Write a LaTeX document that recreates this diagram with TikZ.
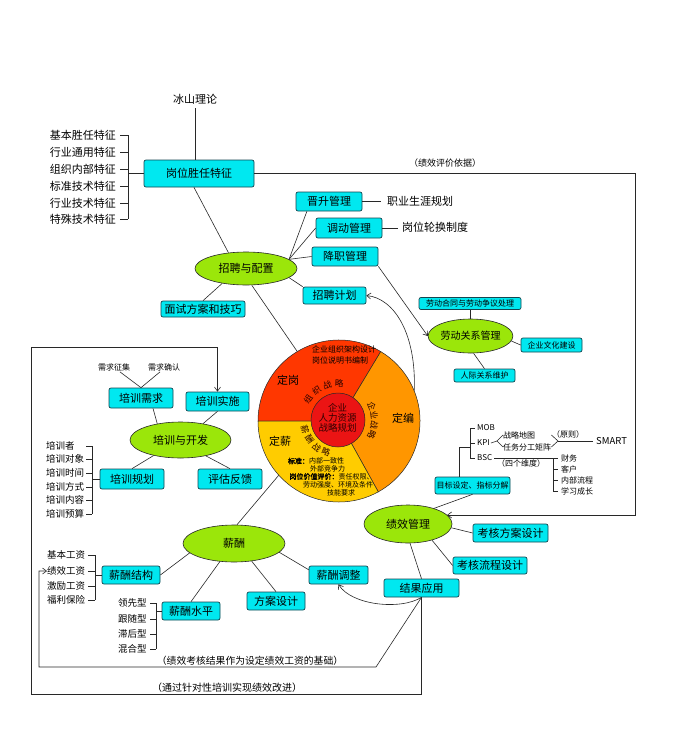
\documentclass[tikz,border=0pt]{standalone}
\usepackage{fontspec}
\setmainfont{Noto Sans CJK SC}[AutoFakeBold=2]
\usetikzlibrary{shapes.geometric,arrows.meta}
\definecolor{boxfill}{RGB}{0,232,240}
\definecolor{boxline}{RGB}{20,70,80}
\definecolor{ovalfill}{RGB}{155,230,10}
\definecolor{pred}{RGB}{255,55,0}
\definecolor{porange}{RGB}{255,150,0}
\definecolor{pyellow}{RGB}{255,204,0}
\definecolor{pinner}{RGB}{235,20,20}
\definecolor{lncol}{RGB}{40,40,40}
\newcommand\myfs[1]{\fontsize{#1pt}{#1pt}\selectfont}
\begin{document}
\begin{tikzpicture}[x=1pt,y=-1pt,
 box/.style={draw=boxline, fill=boxfill, rounded corners=2pt, line width=0.7pt, inner sep=0pt, font=\myfs{11}},
 sbox/.style={box, font=\myfs{8}},
 oval/.style={ellipse, draw=lncol, fill=ovalfill, line width=0.6pt, inner sep=0pt, font=\myfs{11}},
 txt/.style={inner sep=0pt, font=\myfs{11}},
 stxt/.style={inner sep=0pt, font=\myfs{8}},
 mtxt/.style={inner sep=0pt, font=\myfs{9.5}},
 ptxt/.style={inner sep=0pt, font=\myfs{7}},
 ringtxt/.style={inner sep=0pt, font=\myfs{8.5}, text=black!85!red},
 ln/.style={draw=lncol, line width=0.6pt},
 arr/.style={ln, -{Straight Barb[length=4pt,width=6pt]}},
]
\fill[white] (0,0) rectangle (680,750);
\useasboundingbox (0,0) rectangle (680,750);

% ---------- pie ----------
\node[circle, minimum size=162pt, inner sep=0pt] (pie) at (339,421) {};
\coordinate (pc) at (339,421);
\filldraw[fill=pred, draw=lncol, line width=0.5pt] (pc) -- ++(-59:81) arc[start angle=-59, end angle=-180, radius=81] -- cycle;
\filldraw[fill=porange, draw=lncol, line width=0.5pt] (pc) -- ++(61:81) arc[start angle=61, end angle=-59, radius=81] -- cycle;
\filldraw[fill=pyellow, draw=lncol, line width=0.5pt] (pc) -- ++(-180:81) arc[start angle=-180, end angle=-299, radius=81] -- cycle;
\filldraw[fill=pinner, draw=lncol, line width=0.5pt] (338,420) circle[radius=27];
\node[inner sep=0pt, align=center, font=\fontsize{9.5pt}{10pt}\selectfont, text=black!80!red] (inner) at (337.5,417.5) {企业\\人力资源\\战略规划};
\node[stxt] (pt1) at (344,349) {企业组织架构设计};
\node[stxt] (pt2) at (340,360) {岗位说明书编制};
\node[txt] (dg) at (288,380) {定岗};
\node[txt] (db) at (403,418) {定编};
\node[txt] (dx) at (280,441) {定薪};
\node[ptxt] (py1) at (316,461) {\bfseries 标准：\mdseries 内部一致性};
\node[ptxt] (py2) at (327.5,468.5) {外部竞争力};
\node[ptxt] (py3) at (331.5,476.5) {\bfseries 岗位价值评价：\mdseries 责任权限、};
\node[ptxt] (py4) at (338,484.5) {劳动强度、环境及条件};
\node[ptxt] (py5) at (341,492.5) {技能要求};
\foreach \a/\c [count=\i] in {145/组,126/织,107/战,88/略}
  \path (338,420) ++(-\a:36.5) node[ringtxt, rotate=\a-90] (ra\i) {\c};
\foreach \a/\c [count=\i] in {22/企,7/业,-8/战,-23/略}
  \path (338,420) ++(-\a:36.5) node[ringtxt, rotate=\a-90] (rb\i) {\c};
\foreach \a/\c [count=\i] in {197/薪,214.5/酬,232/战,249.5/略}
  \path (338,420) ++(-\a:34.5) node[ringtxt, rotate=\a+90] (rc\i) {\c};

% ---------- top ----------
\node[txt] (bslt) at (195,99) {冰山理论};
\node[box, minimum width=110pt, minimum height=27pt] (gwsr) at (199,173.5) {岗位胜任特征};
\node[txt, font=\myfs{9}] (jxpj) at (445,163) {（绩效评价依据）};
\draw[ln] (bslt.south) ++(0,4) -- (gwsr.north -| bslt.south);
\coordinate (gtk) at (120,0);
\coordinate (gbr) at (128,0);
\foreach \t/\yy [count=\i] in {基本胜任特征/135,行业通用特征/152,组织内部特征/169,标准技术特征/186,行业技术特征/203,特殊技术特征/219}{
  \node[txt, anchor=east] (ga\i) at (116,\yy) {\t};
  \draw[ln] (ga\i.east -| gtk) -- (ga\i.east -| gbr);
}
\draw[ln] (ga1.east -| gbr) -- (ga6.east -| gbr);
\draw[ln] (gwsr.west -| gbr) -- (gwsr.west);

\node[box, minimum width=66pt, minimum height=19pt] (jsgl) at (329,201.5) {晋升管理};
\node[txt, anchor=west] (zysy) at (387,201) {职业生涯规划};
\node[box, minimum width=66pt, minimum height=20pt] (ddgl) at (349,228) {调动管理};
\node[txt, anchor=west] (gwlh) at (402,227) {岗位轮换制度};
\node[box, minimum width=66pt, minimum height=19pt] (jzgl) at (345,256.5) {降职管理};
\node[oval, minimum width=102pt, minimum height=33pt] (zppz) at (246,268.5) {招聘与配置};
\node[box, minimum width=63pt, minimum height=17pt] (zpjh) at (334.5,295.5) {招聘计划};
\node[box, minimum width=84pt, minimum height=16pt] (msfa) at (203,309) {面试方案和技巧};
\draw[ln, shorten >=6pt] (jsgl.east) -- (zysy.west |- jsgl.east);
\draw[ln, shorten >=4pt] (ddgl.east) -- (gwlh.west |- ddgl.east);
\draw[ln] (gwsr.-110) -- (zppz.138);
\draw[ln] (zppz.12) -- (jsgl.204);
\draw[ln] (zppz.12) -- (ddgl.west);
\draw[ln] (zppz.12) -- (jzgl.west);
\draw[ln] (zppz.-12) -- (zpjh.north west);
\draw[ln] (zppz.212) -- (msfa.north);
\draw[ln] (zppz.-71) -- (pie.121);
\draw[arr] (pie.22) .. controls +(2,-57) and +(28,3) .. (zpjh.east);

% ---------- labour relations ----------
\node[sbox, minimum width=102pt, minimum height=12pt] (ldht) at (470,303.5) {劳动合同与劳动争议处理};
\node[oval, font=\myfs{10}, minimum width=73pt, minimum height=34pt] (ldgx) at (470.5,336) {劳动关系管理};
\node[sbox, minimum width=61pt, minimum height=14pt] (qywh) at (551.5,345) {企业文化建设};
\node[sbox, minimum width=61pt, minimum height=13pt] (rjgx) at (484.5,375.5) {人际关系维护};
\draw[ln] (ldht.south -| ldgx.north) -- (ldgx.north);
\draw[ln] (ldgx.-7) -- (qywh.west);
\draw[ln] (ldgx.-80) -- (rjgx.north);
\draw[arr] (jzgl.south east) -- (ldgx.west);

% ---------- training ----------
\node[stxt] (xqzj) at (114,367) {需求征集};
\node[stxt] (xqqr) at (164,367) {需求确认};
\node[box, minimum width=64pt, minimum height=20pt] (pxxq) at (141,398) {培训需求};
\node[box, minimum width=63pt, minimum height=19pt] (pxss) at (217.5,401.5) {培训实施};
\node[oval, minimum width=101pt, minimum height=36pt] (pxkf) at (180.5,440) {培训与开发};
\node[box, minimum width=64pt, minimum height=20pt] (pxgh) at (132,479) {培训规划};
\node[box, minimum width=64pt, minimum height=20pt] (pgfk) at (230,479) {评估反馈};
\draw[ln] (xqzj.south) ++(6,1) -- (pxxq.north);
\draw[ln] (xqqr.south) ++(-4,1) -- (pxxq.north);
\draw[ln] (pxxq.south) ++(12,0) -- (pxkf.145);
\draw[ln] (pxss.south) -- (pxkf.36);
\draw[ln] (pxkf.-150) -- (pxgh.north);
\draw[ln] (pxkf.-32) -- (pgfk.north);
\coordinate (ptk) at (86,0);
\coordinate (pbr) at (92,0);
\foreach \t/\yy [count=\i] in {培训者/446,培训对象/459,培训时间/473,培训方式/487,培训内容/500,培训预算/514}{
  \node[mtxt, anchor=west] (pl\i) at (46,\yy) {\t};
  \draw[ln] (pl\i.west -| ptk) -- (pl\i.west -| pbr);
}
\draw[ln] (pl1.west -| pbr) -- (pl6.west -| pbr);
\draw[ln] (pxgh.west -| pbr) -- (pxgh.west);

% ---------- salary ----------
\node[oval, minimum width=102pt, minimum height=37pt] (xc) at (234,543.5) {薪酬};
\node[box, minimum width=58pt, minimum height=18pt] (xcjg) at (131,575) {薪酬结构};
\node[box, minimum width=58pt, minimum height=18pt] (xcsp) at (191,611) {薪酬水平};
\node[box, minimum width=58pt, minimum height=18pt] (fasj) at (276,601) {方案设计};
\node[box, minimum width=59pt, minimum height=18pt] (xctz) at (338.5,575) {薪酬调整};
\draw[ln] (pie.222) -- (xc.81);
\draw[ln] (xc.192) -- (xcjg.east);
\draw[ln] (xc.232) -- (xcsp.north);
\draw[ln] (xc.-45) -- (fasj.north);
\draw[ln] (xc.-11) -- (xctz.170);
\coordinate (stk) at (88,0);
\coordinate (sbr) at (95,0);
\foreach \t/\yy [count=\i] in {基本工资/555,绩效工资/571,激励工资/586,福利保险/600}{
  \node[mtxt, anchor=west] (xs\i) at (47,\yy) {\t};
  \draw[ln] (xs\i.west -| stk) -- (xs\i.west -| sbr);
}
\draw[ln] (xs1.west -| sbr) -- (xs4.west -| sbr);
\draw[ln] (xcjg.west -| sbr) -- (xcjg.west);
\coordinate (ltk) at (150,0);
\coordinate (lbr) at (156,0);
\foreach \t/\yy [count=\i] in {领先型/603,跟随型/619,滞后型/634,混合型/649}{
  \node[mtxt, anchor=west] (xl\i) at (118,\yy) {\t};
  \draw[ln] (xl\i.west -| ltk) -- (xl\i.west -| lbr);
}
\draw[ln] (xl1.west -| lbr) -- (xl4.west -| lbr);
\draw[ln] (xcsp.west -| lbr) -- (xcsp.west);

% ---------- performance ----------
\node[oval, minimum width=88pt, minimum height=38pt] (jxgl) at (408,524) {绩效管理};
\node[box, minimum width=75pt, minimum height=18pt] (khfa) at (510.5,533) {考核方案设计};
\node[box, minimum width=74pt, minimum height=17pt] (khlc) at (490,565.5) {考核流程设计};
\node[box, minimum width=75pt, minimum height=18pt] (jgyy) at (421.5,588) {结果应用};
\node[sbox, minimum width=75pt, minimum height=17pt] (mbsd) at (472.5,485.5) {目标设定、指标分解};
\draw[ln] (jxgl.-5) -- (khfa.west);
\draw[ln] (jxgl.-34) -- (khlc.west);
\draw[ln] (jxgl.-84) -- (jgyy.north);
\draw[ln] (mbsd.south) -- (jxgl.31);
\coordinate (r1) at (635,0);
\draw[arr] (gwsr.east) -- (gwsr.east -| r1) -- (jxgl.13 -| r1) -- (jxgl.13);
\draw[arr] (jgyy.south) .. controls +(-21,13) and +(13,21) .. (xctz.south);

% indicator tree
\node[stxt, anchor=west] (mob) at (477,428) {MOB};
\node[stxt, anchor=west] (kpi) at (477,443) {KPI};
\node[stxt, anchor=west] (bsc) at (477,458) {BSC};
\coordinate (kbx) at (470,0);
\coordinate (kst) at (459,447);
\draw[ln] (mob.west -| kbx) -- (bsc.west -| kbx);
\draw[ln, shorten >=2pt] (mob.west -| kbx) -- (mob.west);
\draw[ln, shorten >=2pt] (kpi.west -| kbx) -- (kpi.west);
\draw[ln, shorten >=2pt] (bsc.west -| kbx) -- (bsc.west);
\draw[ln] (kst -| kbx) -- (kst) -- (kst |- mbsd.north);
\node[stxt, anchor=west] (zldt) at (503,435) {战略地图};
\node[stxt, anchor=west] (rwfg) at (503,447) {任务分工矩阵};
\coordinate (kv) at (497,441);
\draw[ln] (kpi.east) ++(1,0) -- (kv);
\draw[ln] (zldt.west) -- (kv) -- (rwfg.west);
\coordinate (gv) at (558,441);
\draw[ln] (zldt.east -| rwfg.east) -- (gv) -- (rwfg.east);
\node[inner sep=0pt, font=\myfs{9.5}, anchor=west] (smart) at (596,441) {SMART};
\node[stxt] (yz) at (568,434) {（原则）};
\draw[ln, shorten >=3pt] (gv) -- (smart.west);
\node[stxt] (sgwd) at (521,463.5) {（四个维度）};
\coordinate (bb) at (553,0);
\coordinate (bt) at (558,0);
\draw[ln] (bsc.east) ++(2,0) -- (bsc.east -| bt);
\foreach \t/\yy [count=\i] in {财务/458,客户/469.5,内部流程/480.5,学习成长/491}{
  \node[stxt, anchor=west] (bi\i) at (561,\yy) {\t};
  \draw[ln] (bi\i.west -| bb) -- (bi\i.west -| bt);
}
\draw[ln] (bi1.west -| bb) -- (bi4.west -| bb);

% ---------- feedback loops ----------
\coordinate (ma) at (376,667);
\coordinate (mb) at (39,667);
\draw[arr] (jgyy.south) -- (ma) -- (mb) -- (mb |- xs2.west) -- (xs2.west);
\node[inner sep=0pt, font=\myfs{9.8}] (lab1) at (250,661) {（绩效考核结果作为设定绩效工资的基础）};
\coordinate (lb) at (31,694);
\coordinate (lt) at (31,347);
\draw[arr] (jgyy.south) -- (jgyy.south |- lb) -- (lb) -- (lt) -- (lt -| pxss.north) -- (pxss.north);
\node[inner sep=0pt, font=\myfs{10}] (lab2) at (227,688) {（通过针对性培训实现绩效改进）};
\end{tikzpicture}
\end{document}
